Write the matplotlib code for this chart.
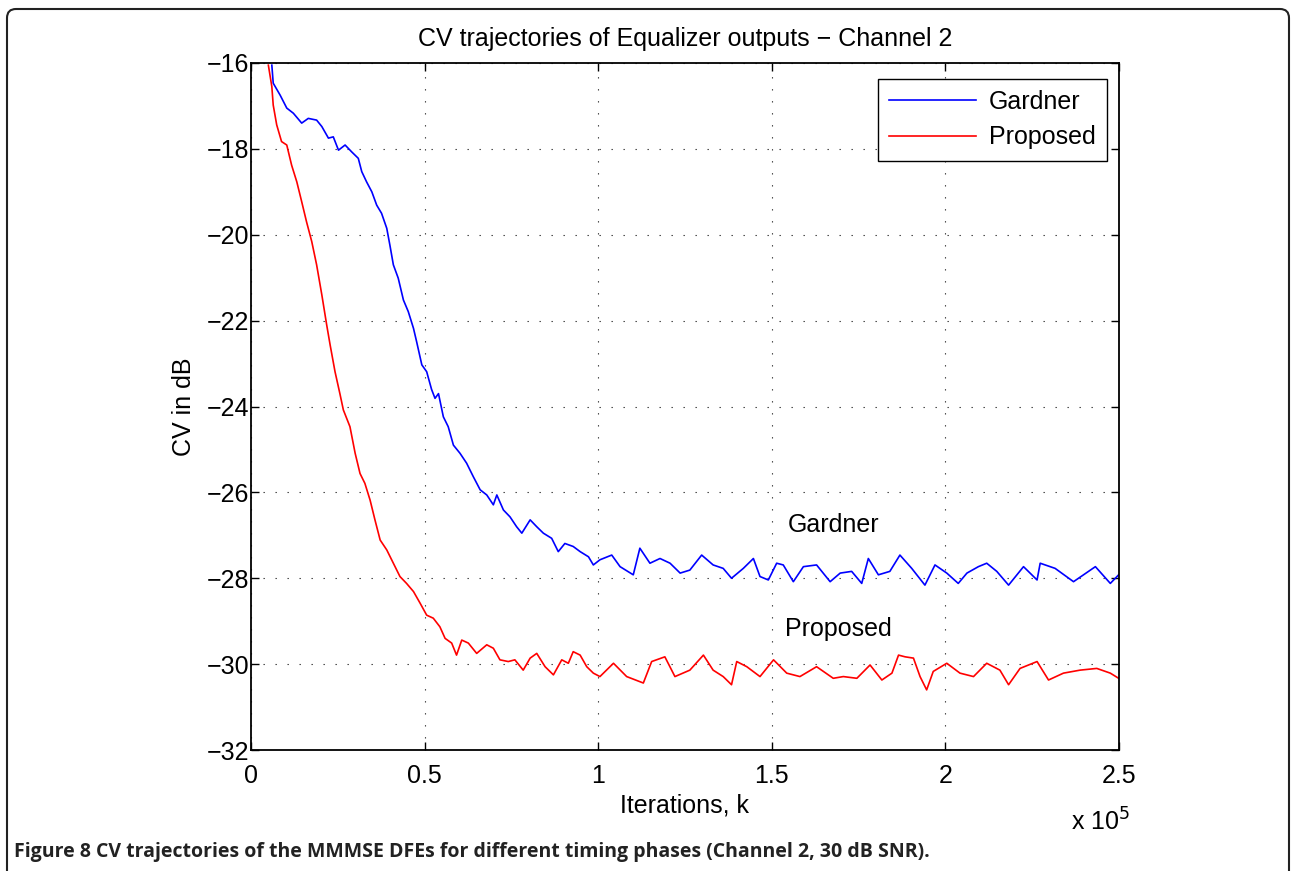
# -*- coding: UTF-8 -*-
import matplotlib
matplotlib.use('Agg')
import matplotlib.pyplot as plt
from matplotlib.patches import FancyBboxPatch
from matplotlib.transforms import IdentityTransform

plt.rcParams['font.family'] = ['Liberation Sans', 'DejaVu Sans']

# iterations (x 1e5) and CV in dB
gardner_k = [0.060, 0.064, 0.084, 0.103, 0.122, 0.146, 0.165, 0.189, 0.204, 0.223,
             0.237, 0.252, 0.271, 0.290, 0.309, 0.319, 0.333, 0.348, 0.362, 0.376,
             0.391, 0.400, 0.410, 0.424, 0.439, 0.453, 0.468, 0.477, 0.492, 0.506,
             0.520, 0.530, 0.540, 0.554, 0.568, 0.583, 0.602, 0.621, 0.640, 0.660,
             0.679, 0.698, 0.708, 0.727, 0.746, 0.765, 0.780, 0.804, 0.823, 0.842,
             0.866, 0.885, 0.904, 0.928, 0.948, 0.972, 0.986, 1.005, 1.039, 1.063,
             1.101, 1.120, 1.149, 1.178, 1.207, 1.236, 1.264, 1.298, 1.331, 1.360,
             1.384, 1.418, 1.447, 1.466, 1.490, 1.514, 1.533, 1.562, 1.591, 1.629,
             1.668, 1.697, 1.730, 1.759, 1.778, 1.807, 1.840, 1.869, 1.903, 1.941,
             1.970, 2.004, 2.037, 2.062, 2.095, 2.119, 2.148, 2.182, 2.225, 2.264,
             2.273, 2.316, 2.369, 2.432, 2.475, 2.499]
gardner_cv = [-16.05, -16.47, -16.75, -17.05, -17.17, -17.40, -17.29, -17.33, -17.48, -17.75,
              -17.72, -18.03, -17.91, -18.07, -18.22, -18.53, -18.77, -19.00, -19.31, -19.50,
              -19.85, -20.24, -20.70, -21.01, -21.52, -21.79, -22.18, -22.49, -23.03, -23.19,
              -23.60, -23.81, -23.70, -24.24, -24.47, -24.90, -25.09, -25.32, -25.63, -25.94,
              -26.06, -26.29, -26.06, -26.41, -26.57, -26.80, -26.95, -26.64, -26.80, -26.95,
              -27.07, -27.38, -27.19, -27.26, -27.38, -27.50, -27.69, -27.57, -27.46, -27.73,
              -27.92, -27.30, -27.65, -27.54, -27.65, -27.88, -27.81, -27.46, -27.69, -27.77,
              -28.00, -27.77, -27.54, -27.96, -28.04, -27.65, -27.69, -28.08, -27.73, -27.69,
              -28.08, -27.88, -27.84, -28.12, -27.54, -27.92, -27.84, -27.46, -27.77, -28.16,
              -27.69, -27.88, -28.12, -27.88, -27.73, -27.65, -27.84, -28.16, -27.73, -28.04,
              -27.65, -27.77, -28.08, -27.73, -28.12, -27.92]

proposed_k = [0.050, 0.060, 0.064, 0.074, 0.088, 0.103, 0.117, 0.132, 0.146, 0.160,
              0.175, 0.189, 0.204, 0.218, 0.228, 0.242, 0.256, 0.266, 0.285, 0.300,
              0.314, 0.328, 0.343, 0.357, 0.372, 0.391, 0.410, 0.429, 0.448, 0.468,
              0.487, 0.506, 0.525, 0.544, 0.559, 0.578, 0.592, 0.607, 0.626, 0.650,
              0.679, 0.698, 0.717, 0.741, 0.760, 0.784, 0.804, 0.823, 0.847, 0.871,
              0.895, 0.914, 0.928, 0.948, 0.967, 0.986, 1.005, 1.044, 1.082, 1.130,
              1.154, 1.192, 1.221, 1.264, 1.303, 1.331, 1.360, 1.384, 1.399, 1.428,
              1.466, 1.505, 1.543, 1.581, 1.629, 1.677, 1.706, 1.745, 1.783, 1.817,
              1.846, 1.865, 1.884, 1.908, 1.927, 1.946, 1.965, 2.004, 2.042, 2.081,
              2.119, 2.157, 2.182, 2.215, 2.264, 2.297, 2.340, 2.388, 2.436, 2.475,
              2.499]
proposed_cv = [-16.05, -16.55, -16.98, -17.44, -17.83, -17.91, -18.38, -18.77, -19.23, -19.70,
               -20.16, -20.70, -21.40, -22.10, -22.57, -23.19, -23.70, -24.08, -24.47, -25.09,
               -25.56, -25.79, -26.18, -26.64, -27.11, -27.34, -27.65, -27.96, -28.12, -28.31,
               -28.58, -28.86, -28.93, -29.13, -29.40, -29.51, -29.79, -29.44, -29.51, -29.75,
               -29.55, -29.63, -29.90, -29.94, -29.90, -30.14, -29.86, -29.75, -30.06, -30.25,
               -29.90, -29.98, -29.71, -29.79, -30.06, -30.21, -30.29, -29.98, -30.29, -30.44,
               -29.94, -29.83, -30.29, -30.14, -29.79, -30.14, -30.29, -30.48, -29.94, -30.06,
               -30.29, -29.90, -30.21, -30.29, -30.06, -30.33, -30.29, -30.33, -30.02, -30.37,
               -30.21, -29.79, -29.83, -29.86, -30.29, -30.60, -30.17, -29.98, -30.21, -30.29,
               -29.98, -30.14, -30.48, -30.10, -29.94, -30.37, -30.21, -30.14, -30.10, -30.21,
               -30.33]

x_ticks = [0, 0.5, 1, 1.5, 2, 2.5]
x_tick_labels = ['0', '0.5', '1', '1.5', '2', '2.5']
y_ticks = [-32, -30, -28, -26, -24, -22, -20, -18, -16]
y_tick_labels = ['\u2212%d' % abs(v) for v in y_ticks]

FS = 18

fig = plt.figure(figsize=(12.92, 8.71), dpi=100)
ax = fig.add_axes([251 / 1292, 1 - 750 / 871, 868 / 1292, 687 / 871])

ax.plot(gardner_k, gardner_cv, color='#0000ff', lw=1.2, label='Gardner')
ax.plot(proposed_k, proposed_cv, color='#ff0000', lw=1.2, label='Proposed')

ax.set_xlim(0, 2.5)
ax.set_ylim(-32, -16)
ax.set_xticks(x_ticks)
ax.set_xticklabels(x_tick_labels)
ax.set_yticks(y_ticks)
ax.set_yticklabels(y_tick_labels)
ax.tick_params(direction='in', length=6, width=1.0, labelsize=FS, top=True, right=True)
ax.tick_params(axis='x', pad=10)
ax.tick_params(axis='y', pad=1)
for sp in ax.spines.values():
    sp.set_linewidth(1.3)
ax.grid(True, color='0.2', lw=0.8, linestyle=(0, (1.2, 9.6)))

ax.set_title('CV trajectories of Equalizer outputs \u2212 Channel 2', fontsize=FS, pad=12)
ax.set_xlabel('Iterations, k', fontsize=FS, labelpad=4)
ax.set_ylabel('CV in dB', fontsize=FS, labelpad=8)
ax.text(2.532, -33.68, r'x 10$^{5}$', fontsize=FS, ha='right', va='center')

ax.text(1.547, -26.76, 'Gardner', fontsize=FS, va='center')
ax.text(1.538, -29.18, 'Proposed', fontsize=FS, va='center')

leg = ax.legend(loc='upper right', bbox_to_anchor=(0.986, 0.977), borderaxespad=0,
                fontsize=FS, frameon=True, fancybox=False, framealpha=1,
                edgecolor='black', handlelength=3.5, handletextpad=0.5,
                labelspacing=0.45, borderpad=0.45)
leg.get_frame().set_linewidth(1.0)

# page frame and caption
frame = FancyBboxPatch((7, -40), 1282, 862 + 40, boxstyle='round,pad=0,rounding_size=9',
                       transform=IdentityTransform(), fill=False, edgecolor='#222222',
                       lw=1.5, clip_on=False)
fig.patches.append(frame)
fig.text(14 / 1292, 1 - 852 / 871,
         'Figure 8 CV trajectories of the MMMSE DFEs for different timing phases (Channel 2, 30 dB SNR).',
         fontsize=14, fontweight='bold', family=['Open Sans', 'DejaVu Sans'], va='center',
         color='#222222')

fig.savefig('out.png', dpi=100)
